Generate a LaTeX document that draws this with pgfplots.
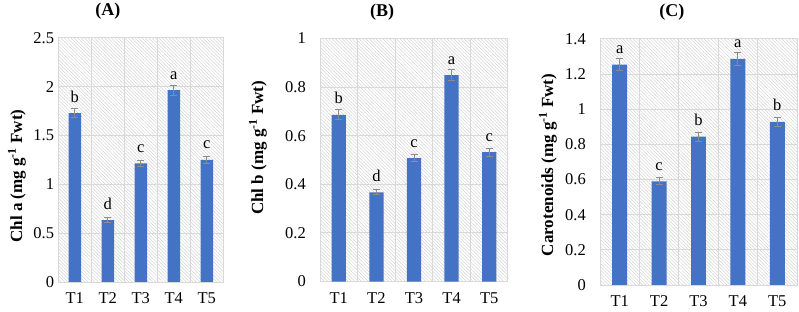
\documentclass[border=0pt]{standalone}
\usepackage{pgfplots}
\pgfplotsset{compat=1.18}
\usepackage{pgfplotstable}
\usetikzlibrary{patterns.meta}
\usepackage{fontspec}
\setmainfont{Liberation Serif}
\definecolor{barblue}{HTML}{4472C4}
\definecolor{gridc}{HTML}{D9D9D9}
\definecolor{hatchc}{HTML}{D4D4D4}
\definecolor{errc}{HTML}{8C8C8C}

\pgfplotstableread{
x y err lab
1 1.730 0.045 b
2 0.635 0.024 d
3 1.215 0.030 c
4 1.965 0.050 a
5 1.250 0.034 c
}\tabA
\pgfplotstableread{
x y err lab
1 0.686 0.020 b
2 0.367 0.011 d
3 0.508 0.015 c
4 0.849 0.023 a
5 0.532 0.016 c
}\tabB
\pgfplotstableread{
x y err lab
1 1.254 0.034 a
2 0.590 0.019 c
3 0.844 0.025 b
4 1.287 0.036 a
5 0.928 0.026 b
}\tabC

\pgfplotsset{
  panel/.style={
    scale only axis,
    anchor=south west,
    xmin=0.5, xmax=5.5, ymin=0,
    xtick={1,2,3,4,5},
    xticklabels={T1,T2,T3,T4,T5},
    minor xtick={1.5,2.5,3.5,4.5},
    xminorgrids, ymajorgrids,
    grid style={draw=gridc, line width=1bp},
    minor grid style={draw=gridc, line width=1bp},
    axis line style={draw=gridc, line width=1bp},
    major tick length=0pt, minor tick length=0pt,
    tick style={draw=none},
    axis background/.style={pattern={Lines[angle=-45,distance=2.4pt,line width=0.5pt]}, pattern color=hatchc},
    /pgf/number format/assume math mode=true,
    ticklabel style={font=\fontsize{16.5bp}{19bp}\selectfont},
    xticklabel style={anchor=base, inner sep=0pt, yshift=-21.5bp},
    yticklabel style={anchor=east, inner sep=0pt},
    label style={font=\fontsize{17bp}{20bp}\selectfont\bfseries},
    ylabel style={rotate=0, anchor=center},
  },
  barplot/.style={
    ybar, bar width=0.38, fill=barblue, draw=none,
    point meta=explicit symbolic,
    nodes near coords,
    nodes near coords style={font=\fontsize{16.5bp}{19bp}\selectfont, anchor=base, inner sep=0pt, yshift=11bp, text=black},
    error bars/.cd, y dir=both, y explicit,
    error bar style={draw=errc, line width=1bp},
    error mark options={draw=errc, rotate=90, mark size=3.5bp, line width=1bp},
  },
  ttl/.style={title style={font=\fontsize{18bp}{21bp}\selectfont\bfseries, at={(axis description cs:#1,1)}, anchor=south, inner sep=0pt, yshift=12bp}},
}

\begin{document}
\begin{tikzpicture}
\useasboundingbox (0,0) rectangle (799bp,312bp);
% Panel A
\begin{axis}[panel, at={(58.3bp,30bp)}, width=165bp, height=244bp,
  ymax=2.5, ytick={0,0.5,...,2.5},
  yticklabel style={xshift=-4bp},
  title={(A)}, ttl=0.30,
  ylabel={Chl a (mg g\textsuperscript{-1} Fwt)},
  ylabel style={at={(axis description cs:-0.25,0.434)}}]
\addplot[barplot] table[x=x, y=y, y error=err, meta=lab] {\tabA};
\end{axis}
% Panel B
\begin{axis}[panel, at={(320bp,30.5bp)}, width=188bp, height=243bp,
  ymax=1, ytick={0,0.2,...,1.01},
  yticklabel style={xshift=-14bp},
  title={(B)}, ttl=0.33,
  ylabel={Chl b (mg g\textsuperscript{-1} Fwt)},
  ylabel style={at={(axis description cs:-0.33,0.55)}}]
\addplot[barplot] table[x=x, y=y, y error=err, meta=lab] {\tabB};
\end{axis}
% Panel C
\begin{axis}[panel, at={(600bp,27bp)}, width=197bp, height=246bp,
  ymax=1.4, ytick={0,0.2,...,1.41},
  yticklabel style={xshift=-14bp},
  title={(C)}, ttl=0.365,
  ylabel={Carotenoids (mg g\textsuperscript{-1} Fwt)},
  ylabel style={at={(axis description cs:-0.264,0.488)}}]
\addplot[barplot] table[x=x, y=y, y error=err, meta=lab] {\tabC};
\end{axis}
\end{tikzpicture}
\end{document}
